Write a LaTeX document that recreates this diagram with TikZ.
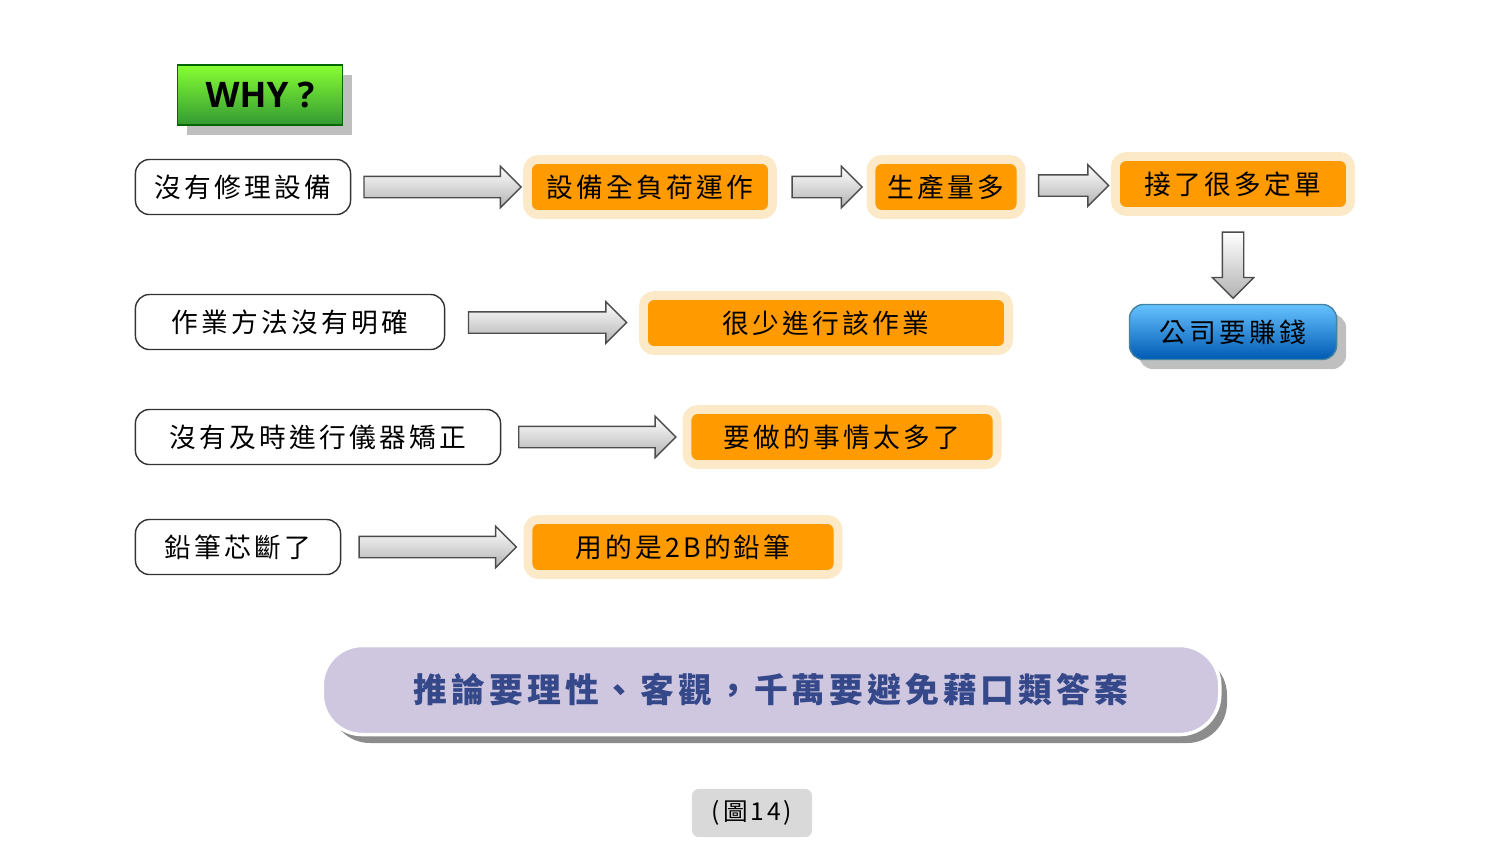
\documentclass[tikz,border=0pt]{standalone}
\usepackage{fontspec}
\setmainfont{Noto Sans CJK TC}[LetterSpace=12]
\newfontfamily\latinf{Open Sans}
\usetikzlibrary{shapes.arrows,calc,shadows}
\definecolor{boxorange}{HTML}{FF9B00}
\definecolor{halo}{HTML}{FCE9C8}
\definecolor{bannerbg}{HTML}{CFC6E0}
\definecolor{bannertxt}{HTML}{34488A}
\tikzset{
  cause/.style={draw=black!80, rounded corners=4pt, fill=white, minimum height=0.55cm, font=\fontsize{7.6}{9}\selectfont, anchor=center},
  result/.style={fill=boxorange, draw=halo, line width=2.5pt, rounded corners=3pt, minimum height=0.55cm, font=\fontsize{7.6}{9}\selectfont},
  bigarrow/.style={single arrow, draw=black!70, top color=white, bottom color=black!30, inner sep=0pt, text height=0.2cm, text depth=0pt, text width=0pt, single arrow head extend=0.1cm, single arrow head indent=0pt}
}
\begin{document}
\begin{tikzpicture}[x=0.01cm,y=-0.01cm]
\useasboundingbox (0,0) rectangle (1500,844);
% title
\node[draw=green!40!black, top color=green!45!lime!80!white, bottom color=green!50!black!80, minimum width=1.65cm, minimum height=0.6cm, drop shadow, font=\latinf\bfseries\fontsize{10}{12}\selectfont](why) at (260,95){WHY ?};
% causes
\node[cause, minimum width=2.15cm](cause1) at (243,187){沒有修理設備};
\node[cause, minimum width=3.09cm](cause2) at (290,322){作業方法沒有明確};
\node[cause, minimum width=3.65cm](cause3) at (318,437){沒有及時進行儀器矯正};
\node[cause, minimum width=2.05cm](cause4) at (238,547){鉛筆芯斷了};
% results
\node[result, minimum width=2.45cm](res1) at (650,187){設備全負荷運作};
\node[result, minimum width=1.5cm](res2) at (946,187){生產量多};
\node[result, minimum width=2.35cm](res3) at (1233,184){接了很多定單};
\node[result, minimum width=3.65cm](res4) at (826,323){很少進行該作業};
\node[result, minimum width=3.1cm](res5) at (842,437){要做的事情太多了};
\node[result, minimum width=3.1cm](res6) at (683,547){用的是2B的鉛筆};
\node[draw=cyan!60!black, top color=cyan!60!blue!60!white, bottom color=cyan!50!blue!70!black, rounded corners=4pt, minimum width=2.07cm, minimum height=0.55cm, drop shadow, font=\fontsize{7.6}{9}\selectfont](money) at (1233,332){公司要賺錢};
% arrows
\node[bigarrow, minimum height=1.57cm] at ($(cause1.east)!0.5!(res1.west)$){};
\node[bigarrow, minimum height=0.7cm] at ($(res1.east)!0.5!(res2.west)$){};
\node[bigarrow, minimum height=0.7cm] at ($(res2.east)!0.5!(res3.west)$){};
\node[bigarrow, minimum height=0.66cm, rotate=-90] at ($(res3.south)!0.5!(money.north)$){};
\node[bigarrow, minimum height=1.58cm] at ($(cause2.east)!0.5!(res4.west)$){};
\node[bigarrow, minimum height=1.57cm] at ($(cause3.east)!0.5!(res5.west)$){};
\node[bigarrow, minimum height=1.57cm] at ($(cause4.east)!0.5!(res6.west)$){};
% banner
\fill[black!45, rounded corners=0.4cm] (330,655) rectangle (1227,743);
\node[fill=bannerbg, draw=white, line width=1pt, rounded corners=0.4cm, minimum width=8.97cm, minimum height=0.89cm, text=bannertxt, font=\bfseries\fontsize{9.6}{11}\selectfont](banner) at (771,690){推論要理性、客觀，千萬要避免藉口類答案};
% caption
\node[fill=black!15, rounded corners=2pt, minimum width=1.2cm, minimum height=0.45cm, font=\fontsize{7}{8}\selectfont](cap) at (752,813){(圖14)};
\end{tikzpicture}
\end{document}
